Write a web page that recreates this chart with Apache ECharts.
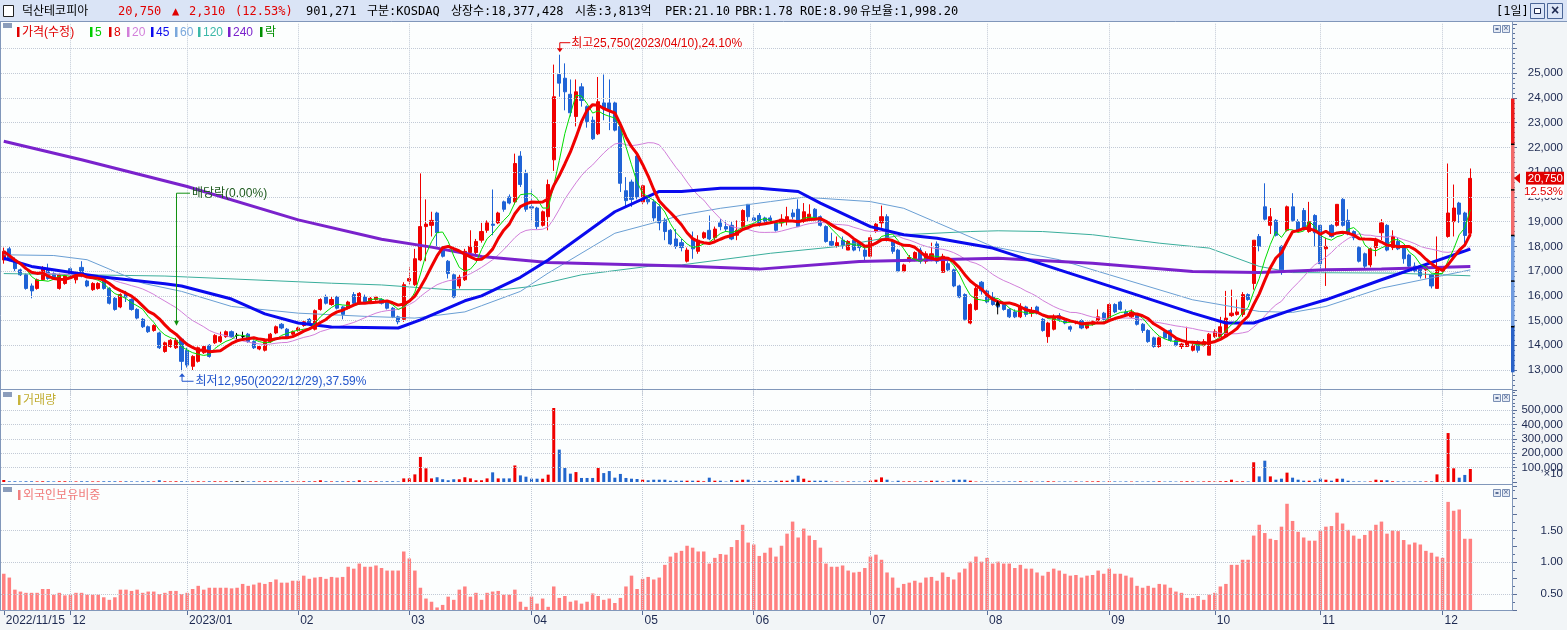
<!DOCTYPE html>
<html>
<head>
<meta charset="utf-8">
<script src="https://cdn.jsdelivr.net/npm/echarts@6/dist/echarts.min.js"></script>
<style>
  html, body { margin: 0; padding: 0; background: #f2f5f7; }
  #chart { width: 1567px; height: 630px; }
</style>
</head>
<body>
<div id="chart"></div>
<script>
// time axis: month labels and trading days per month
const monthLabels = ['2022/11/15', '12', '2023/01', '02', '03', '04', '05', '06', '07', '08', '09', '10', '11', '12'];
const monthBars = [12, 21, 20, 20, 22, 20, 20, 21, 21, 22, 19, 19, 22, 6];
const padBars = 7; // empty slots right of the last day

// daily candles [open, close, low, high]
const candles = [
  // 2022/11
  [17450,17800,17300,17950],[17900,17450,17400,17980],[17450,17100,17000,17550],[17050,16850,16800,17100],
  [16850,16300,16250,16900],[16400,16200,15900,16500],[16300,16650,16250,16700],[16650,17100,16600,17200],
  [17100,16700,16650,17300],[16900,16700,16650,16950],[16300,16850,16250,16900],[16500,16800,16450,16850],
  // 12
  [17100,16850,16800,17150],[16650,16950,16500,17000],[17150,16800,16750,17400],[16600,16400,16350,16650],
  [16250,16500,16200,16550],[16300,16500,16250,16550],[16700,16300,16250,16750],[16300,15700,15650,16350],
  [15900,15450,15400,15950],[15550,16050,15500,16100],[16100,15950,15750,16200],[15850,15450,15400,15900],
  [15450,15100,15050,15500],[15050,14750,14700,15100],[14750,14550,14500,14800],[14600,14800,14550,14850],
  [14500,13900,13850,14550],[13750,14100,13700,14150],[13950,14200,13900,14250],[13900,14200,13850,14300],
  [14250,13350,12950,14300],
  // 2023/01
  [13800,13200,13100,13900],[13150,13550,13000,13600],[13350,13900,13300,13950],[13700,13950,13650,14000],
  [14000,13550,13500,14050],[14100,14400,14050,14450],[14150,14350,14100,14550],[14350,14550,14300,14600],
  [14550,14350,14300,14600],[14400,14400,14250,14500],[14350,14350,14200,14550],[14450,14150,14100,14500],
  [14150,13900,13850,14200],[13850,13950,13800,14000],[13800,14150,13750,14200],[14150,14450,14100,14500],
  [14500,14750,14450,14800],[14850,14700,14650,14900],[14650,14350,14300,14700],[14450,14550,14400,14600],
  // 02
  [14600,14700,14550,14750],[14800,14950,14750,15000],[15050,14850,14800,15100],[14650,15400,14600,15450],
  [15450,15850,15400,15900],[15950,15700,15650,16050],[15650,15850,15600,15950],[15950,15500,15450,16000],
  [15550,15250,15050,15600],[15500,15750,15450,15800],[16050,15700,15650,16150],[15700,16100,15650,16150],
  [15950,15750,15700,16050],[15750,15900,15700,15950],[15850,15950,15800,16000],[15850,15700,15650,15900],
  [15750,15500,15450,15800],[15500,15150,15100,15550],[15150,14950,14850,15200],[15050,16450,14950,16550],
  // 03
  [16600,16700,16450,17150],[16450,17500,16400,17900],[17450,18800,17400,20950],[18800,18900,17400,19900],
  [18850,19050,18400,19400],[19350,18550,18000,19400],[17950,17600,17550,18000],[17400,16900,16700,17450],
  [16850,15950,15900,16900],[16400,16750,16300,16850],[16650,17800,16600,17900],[17750,18000,17600,18650],
  [17750,18200,17650,18300],[18250,18600,18150,18950],[18650,18950,18550,19050],[18900,18850,18450,20300],
  [18950,19350,18900,19400],[19800,19500,19400,19850],[20000,19750,19700,20100],[19800,21350,19700,21750],
  [21650,20500,20400,21850],[20950,19500,19400,21100],
  // 04
  [19600,19550,19050,20300],[19550,18800,18700,19600],[18850,19400,18800,19450],[19200,20500,18650,20700],
  [21500,24050,21050,25350],[24950,24600,24050,25750],[24800,24250,23500,25400],[24150,23400,23250,24750],
  [23250,24250,22850,24750],[24450,23900,23650,24600],[23650,23050,22800,23700],[23100,22350,22300,23250],
  [22550,23850,22500,24850],[23800,23550,23100,24950],[23800,23500,22700,24750],[23800,22700,22650,23850],
  [22850,20550,20200,22900],[20250,19850,19600,20800],[20600,19900,19600,20700],[21650,20000,19900,21700],
  // 05
  [19800,20450,19700,20500],[19900,19800,19700,19950],[19800,19150,19000,19900],[19600,18950,18650,19700],
  [19050,18600,18250,19150],[18650,18100,18050,18700],[18300,18000,17900,18700],[18150,17950,17800,18300],
  [17400,17850,17350,17950],[18300,17900,17500,18600],[17800,18250,17700,18450],[18350,18550,18300,18600],
  [18650,18300,18250,19250],[18350,18700,18250,18800],[18950,18800,18650,19100],[18800,18700,18600,19050],
  [18850,18300,18250,19000],[18450,18650,18250,19050],[18800,19450,18750,19500],[19700,19200,19000,19700],
  // 06
  [19150,19050,18950,19250],[19250,18950,18800,19350],[19150,19000,18950,19200],[19150,19050,18950,19250],
  [18950,18650,18600,19050],[18950,19100,18800,19300],[19050,19200,18850,19600],[19350,19200,19100,19500],
  [19500,18800,18800,19900],[19050,19400,18950,19750],[19100,19300,19050,19700],[19500,19150,19050,19550],
  [19200,18850,18800,19250],[18800,18200,18150,18850],[18200,18050,18000,18550],[18000,18150,17950,18400],
  [18250,18050,17900,18400],[17850,18200,17850,18250],[18250,17850,17800,18300],[18150,17950,17800,18200],
  [17850,17600,17400,18050],
  // 07
  [17600,18350,17550,18450],[18600,18900,18550,18950],[18950,19200,18750,19650],[19200,18250,18200,19300],
  [18200,17800,17700,18250],[17850,17000,16950,17900],[17000,17250,16950,17300],[17400,17550,17350,17650],
  [17500,17750,17400,17800],[17850,17400,17300,17950],[17400,17700,17300,17800],[17500,17700,17400,18150],
  [18100,17400,17300,18200],[16950,17600,16950,17700],[17300,17050,17000,17400],[17050,16400,16350,17100],
  [16400,15950,15900,16450],[16050,15050,15000,16100],[14900,15650,14850,15700],[15450,16300,15400,16400],
  [16550,16200,16050,16600],
  // 08
  [16200,15750,15700,16250],[15950,15650,15600,16150],[15750,15550,15500,15800],[15650,15450,15400,15700],
  [15450,15150,15100,15500],[15350,15150,15100,15450],[15150,15550,15100,15700],[15550,15250,15150,15600],
  [15300,15350,15150,15550],[15550,15300,15250,15600],[15050,14600,14550,15100],[14350,14900,14100,14950],
  [14650,15150,14600,15250],[15200,15050,14950,15300],[15050,14900,14850,15100],[14750,14650,14550,14800],
  [14900,14950,14850,15000],[15000,14700,14650,15050],[14700,14850,14650,14900],[14850,14950,14800,15000],
  [15000,15150,14950,15450],[15300,15050,14950,15350],
  // 09
  [15050,15650,14950,15700],[15650,15350,15300,15700],[15750,15450,15400,15800],[15350,15250,15150,15450],
  [15150,15350,15100,15450],[15250,14850,14800,15300],[14850,14600,14500,14900],[14600,14150,14100,14650],
  [14300,13950,13900,14350],[13950,14300,13900,14350],[14550,14300,14250,14600],[14600,14200,14150,14650],
  [14200,14000,13950,14300],[13950,14050,13850,14100],[13950,14150,13950,14750],[13800,14000,13750,14050],
  [14150,13800,13700,14200],[14000,14150,13950,14250],[13600,14450,13600,14500],
  // 10
  [14350,14550,14300,14650],[14350,14750,14350,15150],[14350,15100,14300,16200],[15200,15300,15150,16250],
  [15250,15350,15200,15850],[15250,16050,15150,16150],[16050,15850,15800,16100],[16500,18250,16250,18250],
  [18400,18000,17800,18500],[19600,19100,19050,20550],[18850,19200,18500,19550],[19050,18450,18400,19100],
  [18000,17050,16850,18050],[18650,19600,18600,19650],[19600,19050,19000,20150],[19000,18650,18600,19100],
  [19450,18750,18650,19550],[18600,19000,18550,19800],[19250,18550,18000,19300],
  // 11
  [18850,17300,17050,18900],[17900,18000,16400,18350],[18850,18400,18350,18900],[18850,19700,18800,19700],
  [19900,18850,18800,19950],[19050,18500,18450,19500],[18600,18350,18250,18650],[17950,17400,17350,18000],
  [17700,17200,17050,17750],[17250,17900,17150,17950],[17950,18250,17600,18350],[18550,18950,18250,19100],
  [18850,17850,17800,18900],[17950,18400,17850,18650],[18200,17900,17850,18350],[17950,17500,17300,18000],
  [17650,17200,17150,17700],[17200,17000,16950,17350],[17200,16800,16700,17250],[17050,17200,16700,17250],
  [16850,16400,16300,16900],[16300,17050,16300,18400],
  // 12
  [17000,17100,16900,17200],[18400,19350,18350,21350],[19000,19550,18400,20500],[19750,19300,18950,19800],
  [19350,18440,18000,19400],[18530,20750,18400,21150]
];

// volume (x10 shares)
const volume = [
  14000,5000,5000,4000,5000,5000,4000,5000,5000,4000,5000,5000,
  5000,4000,5000,5000,4000,4000,5000,5000,5000,4000,5000,4000,4000,5000,5000,4000,12000,5000,4000,5000,5000,
  5000,4000,5000,4000,5000,5000,4000,5000,5000,5000,5000,4000,5000,4000,5000,5000,4000,5000,5000,4000,
  4000,5000,5000,5000,12000,5000,4000,5000,5000,5000,5000,12000,4000,5000,5000,4000,5000,5000,4000,25000,
  25000,53000,174000,95000,25000,33000,19000,12000,19000,19000,33000,25000,12000,12000,25000,67000,25000,25000,25000,115000,46000,37000,
  23000,23000,23000,51000,514000,225000,97000,58000,69000,28000,28000,28000,97000,62000,76000,30000,56000,28000,23000,21000,
  16000,12000,16000,16000,16000,9000,9000,9000,9000,9000,9000,5000,30000,9000,9000,3000,14000,9000,16000,16000,
  5000,9000,5000,5000,9000,9000,9000,16000,44000,23000,9000,9000,9000,9000,3000,3000,3000,4000,4000,3000,4000,
  9000,16000,32000,16000,3000,9000,4000,5000,4000,5000,4000,9000,9000,4000,4000,16000,16000,16000,9000,3000,3000,
  4000,3000,4000,3000,4000,4000,5000,3000,4000,3000,4000,5000,4000,3000,4000,3000,4000,3000,4000,4000,5000,3000,
  5000,4000,3000,4000,3000,4000,3000,4000,4000,5000,3000,4000,3000,4000,5000,4000,3000,4000,5000,
  4000,5000,6000,16000,4000,5000,4000,137000,39000,148000,39000,16000,23000,65000,30000,16000,9000,9000,9000,
  23000,16000,9000,23000,23000,9000,4000,4000,3000,4000,16000,12000,12000,5000,4000,4000,3000,4000,4000,4000,4000,53000,
  5000,340000,95000,30000,49000,90127
];

// foreign ownership ratio (%)
const foreignRatio = [
  0.82,0.76,0.57,0.54,0.52,0.52,0.52,0.58,0.58,0.49,0.52,0.48,
  0.49,0.52,0.52,0.49,0.49,0.49,0.45,0.41,0.45,0.57,0.57,0.55,0.57,0.52,0.54,0.54,0.50,0.52,0.55,0.55,0.50,
  0.52,0.58,0.63,0.57,0.60,0.60,0.60,0.60,0.59,0.60,0.66,0.63,0.65,0.68,0.66,0.69,0.73,0.68,0.68,0.71,
  0.71,0.79,0.74,0.76,0.77,0.74,0.77,0.76,0.77,0.93,0.90,0.98,0.93,0.93,0.95,0.91,0.87,0.87,0.87,1.17,
  1.06,0.87,0.60,0.43,0.38,0.29,0.33,0.46,0.41,0.57,0.62,0.46,0.52,0.41,0.52,0.54,0.55,0.49,0.49,0.57,0.38,0.30,
  0.46,0.35,0.43,0.30,0.62,0.44,0.47,0.38,0.40,0.35,0.38,0.51,0.47,0.41,0.43,0.36,0.44,0.62,0.79,0.58,
  0.74,0.77,0.73,0.76,0.96,1.09,1.15,1.18,1.26,1.23,1.17,1.17,0.98,1.07,1.13,1.12,1.24,1.35,1.59,1.31,
  1.28,1.10,1.15,1.23,1.09,1.26,1.45,1.64,1.39,1.53,1.42,1.35,1.23,0.98,0.93,0.93,0.95,0.87,0.84,0.85,0.91,
  1.09,1.12,1.04,0.84,0.76,0.60,0.66,0.68,0.71,0.68,0.76,0.77,0.71,0.84,0.77,0.73,0.84,0.90,1.01,1.09,1.01,
  1.07,0.98,1.01,0.98,0.98,0.91,0.96,0.90,0.90,0.84,0.79,0.85,0.90,0.87,0.82,0.79,0.80,0.76,0.79,0.80,0.87,0.82,
  0.90,0.82,0.82,0.79,0.76,0.63,0.60,0.63,0.60,0.66,0.65,0.60,0.54,0.52,0.44,0.44,0.47,0.41,0.49,
  0.52,0.62,0.66,0.96,0.96,1.04,1.04,1.42,1.59,1.46,1.37,1.35,1.56,1.92,1.65,1.48,1.39,1.34,1.34,
  1.50,1.56,1.57,1.78,1.61,1.51,1.42,1.37,1.43,1.50,1.59,1.64,1.45,1.50,1.49,1.35,1.28,1.31,1.28,1.18,1.15,1.09,
  1.07,1.95,1.81,1.83,1.37,1.37
];

// long moving averages as [day index, value]
const ma45Pts = [[0,17520],[5,17190],[17,16780],[29,16490],[32,16400],[41,15870],[47,15270],[53,14900],[59,14740],
  [71,14700],[75,15030],[83,15800],[86,16000],[93,16750],[98,17450],[110,19400],[118,20220],[122,20220],[129,20350],
  [136,20350],[143,20220],[147,19750],[156,18800],[162,18470],[168,18330],[178,17930],[190,17050],[202,16180],
  [214,15300],[220,14900],[225,14900],[232,15440],[238,15840],[248,16650],[264,17890]];
const ma60Pts = [[0,17660],[9,17630],[15,17460],[25,16510],[32,16180],[41,15570],[53,15300],[65,15170],[74,15100],
  [83,15350],[86,15600],[93,16180],[98,16920],[110,18530],[119,19070],[122,19270],[129,19540],[138,19810],[144,19990],
  [156,19810],[162,19540],[171,18670],[178,17990],[190,17460],[202,16650],[214,15840],[226,15370],[232,15330],
  [238,15570],[248,16310],[264,17050]];
const ma120Pts = [[0,16900],[29,16800],[59,16510],[68,16440],[80,16250],[90,16250],[95,16380],[104,16850],[116,17190],
  [122,17250],[138,17720],[150,17990],[162,18470],[174,18600],[179,18630],[187,18600],[196,18470],[208,18130],
  [217,17930],[226,17190],[232,16940],[250,16920],[264,16810]];
const ma240Pts = [[0,22250],[14,21500],[33,20420],[53,19070],[68,18290],[77,17970],[86,17590],[98,17350],[122,17210],
  [136,17080],[154,17390],[179,17520],[196,17320],[214,16980],[226,16940],[238,17050],[248,17080],[264,17190]];

// marked days
const highDay = 100, highDate = '2023/04/10';
const lowDay = 32, lowDate = '2022/12/29';
const exDivDay = 31;
const eventDay = 179;

const FONT = "'Liberation Sans', 'Noto Sans CJK KR', sans-serif";
const MONO = "'DejaVu Sans Mono', 'Noto Sans CJK KR', monospace";
const UP = '#f00000', DOWN = '#1f63d6';
const AXIS_TXT = '#1c2850';
const BORDER = '#8197ba';

// categories: one per trading day plus empty slots
const labelAt = {};
const monthStarts = [];
let n = 0;
monthBars.forEach((c, m) => { labelAt[n] = monthLabels[m]; monthStarts.push(n); n += c; });
const cats = [];
for (let i = 0; i < n + padBars; i++) cats.push(String(i));

const closes = candles.map(d => d[1]);
function movingAvg(len) {
  return closes.map((c, i) => {
    const from = Math.max(0, i - len + 1);
    let s = 0;
    for (let k = from; k <= i; k++) s += closes[k];
    return Math.round(s / (i - from + 1));
  });
}
const fmt = v => Math.round(v).toLocaleString('en-US');

const dotted = { type: 'dotted', color: '#c2cad6', width: 1 };
function gridLines(xi, yi, yVals) {
  return {
    type: 'line', xAxisIndex: xi, yAxisIndex: yi, data: [], z: 1, silent: true,
    markLine: {
      silent: true, symbol: ['none', 'none'], animation: false, label: { show: false },
      lineStyle: dotted, emphasis: { disabled: true },
      data: monthStarts.slice(1).map(i => ({ xAxis: i })).concat(yVals.map(v => ({ yAxis: v })))
    }
  };
}

const volColors = candles.map(d => d[1] > d[0] ? UP : d[1] < d[0] ? '#2266cc' : '#111111');

function xAxisFor(gi, show) {
  return {
    type: 'category', gridIndex: gi, data: cats, boundaryGap: true,
    axisLine: { show: false },
    axisTick: { show: show, alignWithLabel: true, length: 5, interval: i => labelAt[i] !== undefined,
      lineStyle: { color: '#5b6f98' } },
    axisLabel: { show: false },
    splitLine: { show: false }
  };
}
function yAxisFor(gi, cfg) {
  return Object.assign({
    type: 'value', gridIndex: gi, position: 'right', scale: false,
    axisLine: { show: false },
    axisTick: { show: true, length: 5, lineStyle: { color: '#5b6f98' } },
    splitLine: { show: false }, minorSplitLine: { show: false }
  }, cfg);
}
const lab = (fn) => ({ margin: 51, align: 'right', color: AXIS_TXT, fontSize: 11.5, fontFamily: FONT, formatter: fn });
const minor = (k) => ({ show: true, splitNumber: k, length: 3, lineStyle: { color: '#5b6f98' } });

const chart = echarts.init(document.getElementById('chart'));
chart.setOption({
  animation: false,
  backgroundColor: '#f2f5f7',
  textStyle: { fontFamily: FONT },
  grid: [
    { left: 1, right: 55, top: 23.8, bottom: 235.25 },
    { left: 1, right: 55, top: 389.84, bottom: 148 },
    { left: 1, right: 55, top: 486.6, bottom: 20 }
  ],
  xAxis: [xAxisFor(0, false), xAxisFor(1, false), xAxisFor(2, true)],
  yAxis: [
    yAxisFor(0, { min: 12000, max: 27000, interval: 1000, minorTick: minor(5),
      axisLabel: lab(v => (v >= 13000 && v <= 25000) ? fmt(v) : '') }),
    yAxisFor(1, { min: 0, max: 640000, interval: 100000, minorTick: minor(4),
      axisLabel: lab(v => (v >= 100000 && v <= 500000) ? fmt(v) : '') }),
    yAxisFor(2, { min: 0.25, max: 2.19, interval: 0.25, minorTick: minor(2),
      axisLabel: lab(v => [0.5, 1, 1.5].some(t => Math.abs(t - v) < 1e-6) ? v.toFixed(2) : '') })
  ],
  series: [
    gridLines(0, 0, [13000,14000,15000,16000,17000,18000,19000,20000,21000,22000,23000,24000,25000,26000]),
    gridLines(1, 1, [100000,200000,300000,400000,500000]),
    gridLines(2, 2, [0.5, 1.0, 1.5]),
    {
      type: 'candlestick', xAxisIndex: 0, yAxisIndex: 0, data: candles, barWidth: 3.6, z: 3,
      itemStyle: { color: UP, color0: DOWN, borderColor: UP, borderColor0: DOWN, borderColorDoji: '#000', borderWidth: 1 }
    },
    { type: 'line', xAxisIndex: 0, yAxisIndex: 0, data: ma120Pts, symbol: 'none', z: 4, lineStyle: { color: '#3aae9c', width: 1 } },
    { type: 'line', xAxisIndex: 0, yAxisIndex: 0, data: ma60Pts, symbol: 'none', z: 4, lineStyle: { color: '#6a9fd4', width: 1 } },
    { type: 'line', xAxisIndex: 0, yAxisIndex: 0, data: movingAvg(20), symbol: 'none', z: 4, lineStyle: { color: '#d27fda', width: 1 } },
    { type: 'line', xAxisIndex: 0, yAxisIndex: 0, data: ma240Pts, symbol: 'none', z: 5, lineStyle: { color: '#7a22cc', width: 3 } },
    { type: 'line', xAxisIndex: 0, yAxisIndex: 0, data: ma45Pts, symbol: 'none', z: 5, lineStyle: { color: '#0a0aee', width: 3 } },
    { type: 'line', xAxisIndex: 0, yAxisIndex: 0, data: movingAvg(5), symbol: 'none', z: 5, lineStyle: { color: '#00dd00', width: 1 } },
    { type: 'line', xAxisIndex: 0, yAxisIndex: 0, data: movingAvg(8), symbol: 'none', z: 6, lineStyle: { color: '#f00000', width: 3 } },
    {
      type: 'bar', xAxisIndex: 1, yAxisIndex: 1, barWidth: 3, z: 3,
      data: volume.map((v, i) => ({ value: v, itemStyle: { color: volColors[i] } }))
    },
    { type: 'bar', xAxisIndex: 2, yAxisIndex: 2, barWidth: 3.5, z: 3, data: foreignRatio, itemStyle: { color: '#ff8080' } }
  ]
});

// ---- decorations placed through the chart's own scales ----
const px = (i, v) => chart.convertToPixel({ xAxisIndex: 0, yAxisIndex: 0 }, [i, v]);
const yOf = v => px(0, v)[1];

function txt(x, y, text, color, size, opt) {
  return { type: 'text', z: 100, silent: true,
    style: Object.assign({ x, y, text, fill: color, fontSize: size, fontFamily: FONT, align: 'left', verticalAlign: 'middle' }, opt || {}) };
}
function box(x, y, w, h, fill, stroke, z) {
  return { type: 'rect', z: z === undefined ? 100 : z, silent: true, shape: { x, y, width: w, height: h },
    style: { fill, stroke: stroke || null, lineWidth: 1 } };
}
function seg(x1, y1, x2, y2, color, z, w) {
  return { type: 'line', z: z === undefined ? 100 : z, silent: true, shape: { x1, y1, x2, y2 }, style: { stroke: color, lineWidth: w || 1 } };
}
function tri(points, color) {
  return { type: 'polygon', z: 100, silent: true, shape: { points }, style: { fill: color } };
}

const g = [];
// panel backgrounds
g.push(box(1, 22, 1511, 367.5, '#fcfefe', null, -1));
g.push(box(1, 390, 1511, 94, '#fcfefe', null, -1));
g.push(box(1, 485, 1511, 125, '#fcfefe', null, -1));
// title bar
g.push(box(0, 0, 1567, 21, '#dae4f6', null, 1));
g.push(seg(0, 21.5, 1567, 21.5, BORDER, 50));
// panel borders
g.push(seg(0.5, 21, 0.5, 610, BORDER, 50));
g.push(seg(1512.5, 21, 1512.5, 610.5, BORDER, 50));
g.push(seg(0, 389.5, 1512.5, 389.5, BORDER, 50));
g.push(seg(0, 484.5, 1512.5, 484.5, BORDER, 50));
g.push(seg(0, 610.5, 1512.5, 610.5, BORDER, 50));

// month labels under the bottom panel, at each month's first day
monthStarts.forEach((i, m) => {
  g.push(txt(px(i, 13000)[0] + 2, 621, monthLabels[m], AXIS_TXT, 12));
});

// title
const lastClose = closes[closes.length - 1];
const prevClose = closes[closes.length - 2];
const chg = lastClose - prevClose;
const chgPct = (chg / prevClose * 100).toFixed(2);
g.push(box(3.5, 5.5, 10, 11, '#ffffff', '#222222'));
const titleParts = [
  ['덕산테코피아', 22, '#000000'],
  [fmt(lastClose), 118, '#e00000'],
  ['▲', 172, '#e00000'],
  [fmt(chg), 189, '#e00000'],
  ['(' + chgPct + '%)', 235, '#e00000'],
  ['901,271', 306, '#000000'],
  ['구분:KOSDAQ', 367, '#000000'],
  ['상장수:18,377,428', 451, '#000000'],
  ['시총:3,813억', 575, '#000000'],
  ['PER:21.10', 665, '#000000'],
  ['PBR:1.78', 735, '#000000'],
  ['ROE:8.90', 800, '#000000'],
  ['유보율:1,998.20', 860, '#000000']
];
titleParts.forEach(p => g.push(txt(p[1], 11.5, p[0], p[2], 12, { fontFamily: MONO })));
g.push(txt(1496, 11.5, '[1일]', '#000000', 12, { fontFamily: MONO }));
g.push(box(1530.5, 3.5, 14, 15, '#dce6f8', '#4b6698'));
g.push(box(1534.5, 8.5, 6, 5, '#ffffff', '#1c2850'));
g.push(box(1547.5, 3.5, 15, 15, '#dce6f8', '#4b6698'));
g.push(txt(1555, 11.5, '×', '#1c2850', 14, { align: 'center', fontWeight: 'bold' }));

// panel corner marks
[23, 392, 487].forEach(y => {
  g.push(box(3, y, 9, 5, '#8b9dbb'));
  g.push(box(1493.5, y + 2.5, 7, 7, '#e4eaf4', '#7a8fb4'));
  g.push(box(1495.5, y + 5, 3, 2, '#5a6f98'));
  g.push(box(1502.5, y + 2.5, 7, 7, '#e4eaf4', '#7a8fb4'));
  g.push(txt(1506, y + 6, '×', '#5a6f98', 9, { align: 'center' }));
});

// legend
const legendItems = [
  ['가격(수정)', '#e00000', 17], ['5', '#00cc00', 90], ['8', '#e00000', 109], ['20', '#d27fda', 127],
  ['45', '#0a0aee', 151], ['60', '#7aa8dc', 175], ['120', '#3ab8a8', 198], ['240', '#7a22cc', 228], ['락', '#009000', 260]
];
legendItems.forEach(it => {
  g.push(box(it[2], 27, 2.5, 10, it[1]));
  g.push(txt(it[2] + 5, 32.5, it[0], it[1], 12));
});
g.push(box(18, 395, 2.5, 10, '#c8b43c'));
g.push(txt(23, 400.5, '거래량', '#c0ac30', 12));
g.push(box(18, 490, 2.5, 10, '#f08080'));
g.push(txt(23, 495.5, '외국인보유비중', '#f07a7a', 12));
g.push(txt(1563, 474, '×10', AXIS_TXT, 11.5, { align: 'right' }));

// high / low annotations
const maxHigh = Math.max(...candles.map(d => d[3]));
const minLow = Math.min(...candles.map(d => d[2]));
const hp = px(highDay, maxHigh);
g.push(seg(hp[0] + 0.5, hp[1] - 12, hp[0] + 11, hp[1] - 12, '#e00000'));
g.push(seg(hp[0] + 0.5, hp[1] - 12, hp[0] + 0.5, hp[1] - 6, '#e00000'));
g.push(tri([[hp[0] - 2.5, hp[1] - 6.5], [hp[0] + 3.5, hp[1] - 6.5], [hp[0] + 0.5, hp[1] - 2.5]], '#e00000'));
g.push(txt(hp[0] + 12, hp[1] - 11.5, '최고' + fmt(maxHigh) + '(' + highDate + '),' + ((maxHigh - lastClose) / lastClose * 100).toFixed(2) + '%', '#e00000', 12));

const lp = px(lowDay, minLow);
g.push(seg(lp[0] + 0.5, lp[1] + 10, lp[0] + 12, lp[1] + 10, '#2255cc'));
g.push(seg(lp[0] + 0.5, lp[1] + 10, lp[0] + 0.5, lp[1] + 5, '#2255cc'));
g.push(tri([[lp[0] - 2.5, lp[1] + 5.5], [lp[0] + 3.5, lp[1] + 5.5], [lp[0] + 0.5, lp[1] + 2]], '#2255cc'));
g.push(txt(lp[0] + 14, lp[1] + 10, '최저' + fmt(minLow) + '(' + lowDate + '),' + ((lastClose - minLow) / lastClose * 100).toFixed(2) + '%', '#2255cc', 12));

// ex-dividend marker
const ex = px(exDivDay, candles[exDivDay][3]);
const exTop = yOf(20150);
g.push(seg(ex[0] + 0.5, exTop, ex[0] + 0.5, ex[1] - 16, '#109010'));
g.push(seg(ex[0] + 0.5, exTop, ex[0] + 14, exTop, '#109010'));
g.push(tri([[ex[0] - 2, ex[1] - 17], [ex[0] + 3, ex[1] - 17], [ex[0] + 0.5, ex[1] - 12]], '#109010'));
g.push(txt(ex[0] + 16, exTop, '배당락(0.00%)', '#1e5a1e', 12));

// event arrow
const ev = px(eventDay, 15250);
g.push(seg(ev[0] - 0.5, ev[1], ev[0] - 0.5, ev[1] - 12, '#000000'));
g.push(tri([[ev[0] - 3, ev[1] - 9], [ev[0] + 2, ev[1] - 9], [ev[0] - 0.5, ev[1] - 14]], '#000000'));

// price limit bar (+-30% of previous close)
const bands = [[1.2, 1.3, '#ee1c1c'], [1.0, 1.2, '#f26a6a'], [0.8, 1.0, '#6f9be0'], [0.7, 0.8, '#2a62c8']];
bands.forEach(b => {
  const y1 = yOf(prevClose * b[1]), y2 = yOf(prevClose * b[0]);
  g.push(box(1511, y1, 3.5, y2 - y1, b[2], null, 60));
});
[1.2, 1.1, 1.0, 0.9, 0.8].forEach(f => g.push(box(1511, yOf(prevClose * f) - 0.75, 3.5, 1.5, '#000000', null, 61)));

// current price tag
const cy = yOf(lastClose);
g.push(tri([[1514, cy], [1520, cy - 5], [1520, cy + 5]], '#e00000'));
g.push(box(1526, cy - 6.5, 38, 13, '#e00000'));
g.push(txt(1563, cy, fmt(lastClose), '#ffffff', 11.5, { align: 'right' }));
g.push(box(1526, cy + 6.5, 38, 13, '#ffffff'));
g.push(txt(1563, cy + 13, chgPct + '%', '#e00000', 11.5, { align: 'right' }));

chart.setOption({ graphic: { elements: g } });
</script>
</body>
</html>
